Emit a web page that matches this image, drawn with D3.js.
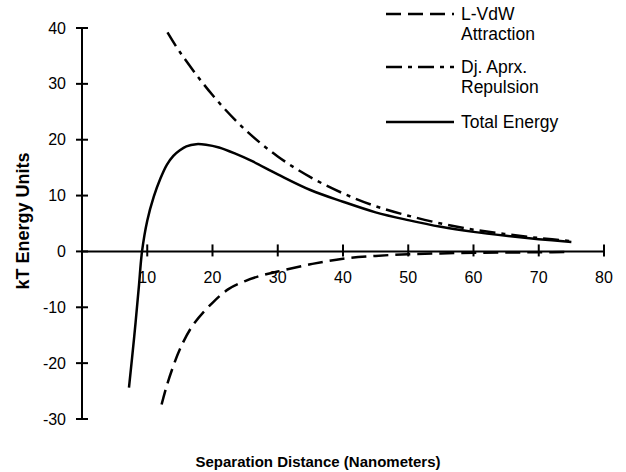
<!DOCTYPE html>
<html>
<head>
<meta charset="utf-8">
<script src="https://cdn.jsdelivr.net/npm/d3@7"></script>
<style>
  body { margin: 0; background: #fff; }
  text { font-family: "Liberation Sans", Arial, sans-serif; }
</style>
</head>
<body>
<div id="chart"></div>
<script>
// data (nm, kT)
var attrX = [12.2, 13, 14, 15, 17, 20, 22.5, 25, 27.5, 30, 35, 40, 45, 50, 55, 60, 65, 70, 75];
var attrY = [-27.4, -24, -20.5, -17.5, -13.2, -9.2, -6.7, -5.3, -4.3, -3.6, -2.3, -1.3, -0.8, -0.5, -0.35, -0.25, -0.2, -0.15, -0.1];

var repX = [13.1, 15, 20, 25, 30, 35, 40, 45, 50, 55, 60, 65, 70, 75];
var repY = [39.2, 35.7, 28.0, 21.8, 17.0, 13.3, 10.4, 8.1, 6.4, 5.0, 3.9, 3.1, 2.4, 1.85];

var totX = [7.2, 8, 8.7, 9.2, 10, 11, 12, 13, 14, 15, 16, 17.5, 19, 21, 23.5, 26, 30, 35, 40, 45, 50, 55, 60, 65, 70, 75];
var totY = [-24.4, -15.3, -6.5, 0, 5.5, 9.8, 13.0, 15.5, 17.1, 18.1, 18.8, 19.2, 19.1, 18.6, 17.5, 16.2, 13.8, 11.0, 8.9, 7.0, 5.6, 4.4, 3.5, 2.8, 2.2, 1.7];

var xTicks = [10, 20, 30, 40, 50, 60, 70, 80];
var yTicks = [-30, -20, -10, 0, 10, 20, 30, 40];

var seriesNames = [["L-VdW", "Attraction"], ["Dj. Aprx.", "Repulsion"], ["Total Energy"]];

var width = 626, height = 472;

var svg = d3.select("#chart")
  .append("svg")
    .attr("width", width)
    .attr("height", height);

var x = d3.scaleLinear().domain([0, 80]).range([82, 604]);
var y = d3.scaleLinear().domain([-30, 40]).range([419, 28]);

// y axis (ticks cross the line)
var yAxis = svg.append("g").attr("transform", "translate(" + x(0) + ",0)");
yAxis.append("line")
  .attr("x1", 0).attr("x2", 0)
  .attr("y1", y(40)).attr("y2", y(-30))
  .attr("stroke", "#000").attr("stroke-width", 2);
yAxis.selectAll("line.tick")
  .data(yTicks)
  .join("line")
  .attr("class", "tick")
  .attr("x1", -6).attr("x2", 6)
  .attr("y1", d => y(d)).attr("y2", d => y(d))
  .attr("stroke", "#000").attr("stroke-width", 2);
yAxis.selectAll("text")
  .data(yTicks)
  .join("text")
  .attr("x", -16)
  .attr("y", d => y(d) + 5.5)
  .attr("text-anchor", "end")
  .style("font-size", "16px")
  .text(d => d);

// x axis sits on y = 0
var xAxis = svg.append("g").attr("transform", "translate(0," + y(0) + ")");
xAxis.append("line")
  .attr("x1", x(0)).attr("x2", x(80))
  .attr("y1", 0).attr("y2", 0)
  .attr("stroke", "#000").attr("stroke-width", 2);
xAxis.selectAll("line.tick")
  .data(xTicks)
  .join("line")
  .attr("class", "tick")
  .attr("x1", d => x(d)).attr("x2", d => x(d))
  .attr("y1", -7).attr("y2", 5)
  .attr("stroke", "#000").attr("stroke-width", 2);
xAxis.selectAll("text")
  .data(xTicks)
  .join("text")
  .attr("x", d => x(d))
  .attr("y", 32)
  .attr("text-anchor", "middle")
  .style("font-size", "16px")
  .text(d => d);

// axis titles
svg.append("text")
  .attr("transform", "translate(29,221) rotate(-90)")
  .attr("text-anchor", "middle")
  .style("font-size", "18px")
  .style("font-weight", "bold")
  .text("kT Energy Units");

svg.append("text")
  .attr("x", 318)
  .attr("y", 467)
  .attr("text-anchor", "middle")
  .style("font-size", "15px")
  .style("font-weight", "bold")
  .text("Separation Distance (Nanometers)");

// lines
var line = d3.line()
  .x(d => x(d[0]))
  .y(d => y(d[1]))
  .curve(d3.curveCatmullRom);

var dashes = ["15,7", "16,6,4,6", null];
var series = [d3.zip(attrX, attrY), d3.zip(repX, repY), d3.zip(totX, totY)];

svg.selectAll("path.series")
  .data(series)
  .join("path")
  .attr("class", "series")
  .attr("fill", "none")
  .attr("stroke", "#000")
  .attr("stroke-width", 2.5)
  .attr("stroke-dasharray", (d, i) => dashes[i])
  .attr("d", line);

// legend
var legendY = [14, 67, 122];
var legend = svg.selectAll("g.legend")
  .data(seriesNames)
  .join("g")
  .attr("class", "legend")
  .attr("transform", (d, i) => "translate(386," + legendY[i] + ")");

legend.append("line")
  .attr("x1", 0).attr("x2", 68)
  .attr("y1", 0).attr("y2", 0)
  .attr("stroke", "#000")
  .attr("stroke-width", 2.5)
  .attr("stroke-dasharray", (d, i) => dashes[i]);

legend.each(function(d) {
  var g = d3.select(this);
  d.forEach(function(t, k) {
    g.append("text")
      .attr("x", 75)
      .attr("y", 6 + k * 20)
      .style("font-size", "17.5px")
      .text(t);
  });
});
</script>
</body>
</html>
